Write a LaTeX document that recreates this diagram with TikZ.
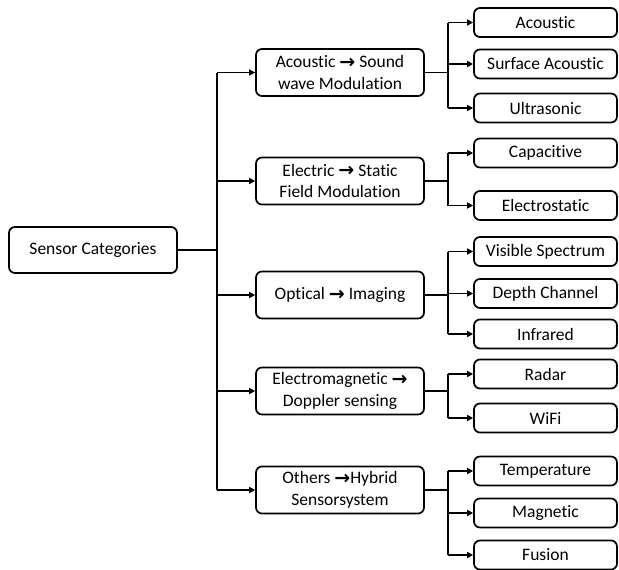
\documentclass[tikz,border=0pt]{standalone}
\usepackage{fontspec}
\setmainfont{Carlito}[RawFeature=-liga]
\newfontfamily\arrowfont{DejaVu Sans}
\usetikzlibrary{arrows.meta}
\newcommand{\rarr}{{\arrowfont\bfseries\fontsize{19}{19}\selectfont\raisebox{-0.5pt}{\char"2192}}}
\begin{document}
\begin{tikzpicture}[x=1pt,y=-1pt,
  box/.style={draw, line width=1.7pt, rounded corners=6pt, align=center,
    font=\fontsize{17.5}{21.5}\selectfont, inner sep=0pt},
  leaf/.style={box, minimum width=143pt, minimum height=29pt},
  mid/.style={box, minimum width=168pt, minimum height=47pt},
  conn/.style={line width=1.7pt},
  arr/.style={conn, -{Triangle[length=6pt,width=6pt]}}]
\useasboundingbox (0,0) rectangle (619,570);
\node[box, minimum width=168pt, minimum height=46pt] (root) at (93,250) {Sensor Categories};
\node[mid] (m1) at (340,72.5) {Acoustic \rarr{} Sound\\wave Modulation};
\node[mid] (m2) at (340,181) {Electric \rarr{} Static\\Field Modulation};
\node[mid] (m3) at (340,295) {Optical \rarr{} Imaging};
\node[mid] (m4) at (340,391) {Electromagnetic \rarr{}\\Doppler sensing};
\node[mid] (m5) at (340,490) {Others \rarr{}Hybrid\\Sensorsystem};
\node[leaf] (l11) at (545.5,22.5) {Acoustic};
\node[leaf] (l12) at (545.5,64) {Surface Acoustic};
\node[leaf] (l13) at (545.5,108) {Ultrasonic};
\node[leaf] (l21) at (545.5,153) {Capacitive};
\node[leaf] (l22) at (545.5,205.5) {Electrostatic};
\node[leaf] (l31) at (545.5,251.5) {Visible Spectrum};
\node[leaf] (l32) at (545.5,293.5) {Depth Channel};
\node[leaf] (l33) at (545.5,334) {Infrared};
\node[leaf] (l41) at (545.5,374) {Radar};
\node[leaf] (l42) at (545.5,418) {WiFi};
\node[leaf] (l51) at (545.5,471) {Temperature};
\node[leaf] (l52) at (545.5,513) {Magnetic};
\node[leaf] (l53) at (545.5,555) {Fusion};
\coordinate (t) at (217,250);
\coordinate (b) at (448,0);
\draw[conn] (root.east) -- (t);
\draw[conn] (t |- m1) -- (t |- m5);
\foreach \m in {m1,m2,m3,m4,m5} \draw[arr] (t |- \m) -- (\m.west);
% groups
\draw[conn] (m1.east) -- (b |- m1);
\draw[conn] (b |- l11) -- (b |- l13);
\foreach \l in {l11,l12,l13} \draw[arr] (b |- \l) -- (\l.west);
\draw[conn] (m2.east) -- (b |- m2);
\draw[conn] (b |- l21) -- (b |- l22);
\foreach \l in {l21,l22} \draw[arr] (b |- \l) -- (\l.west);
\draw[conn] (m3.east) -- (b |- m3);
\draw[conn] (b |- l31) -- (b |- l33);
\foreach \l in {l31,l32,l33} \draw[arr] (b |- \l) -- (\l.west);
\draw[conn] (m4.east) -- (b |- m4);
\draw[conn] (b |- l41) -- (b |- l42);
\foreach \l in {l41,l42} \draw[arr] (b |- \l) -- (\l.west);
\draw[conn] (m5.east) -- (b |- m5);
\draw[conn] (b |- l51) -- (b |- l53);
\foreach \l in {l51,l52,l53} \draw[arr] (b |- \l) -- (\l.west);
\end{tikzpicture}
\end{document}
